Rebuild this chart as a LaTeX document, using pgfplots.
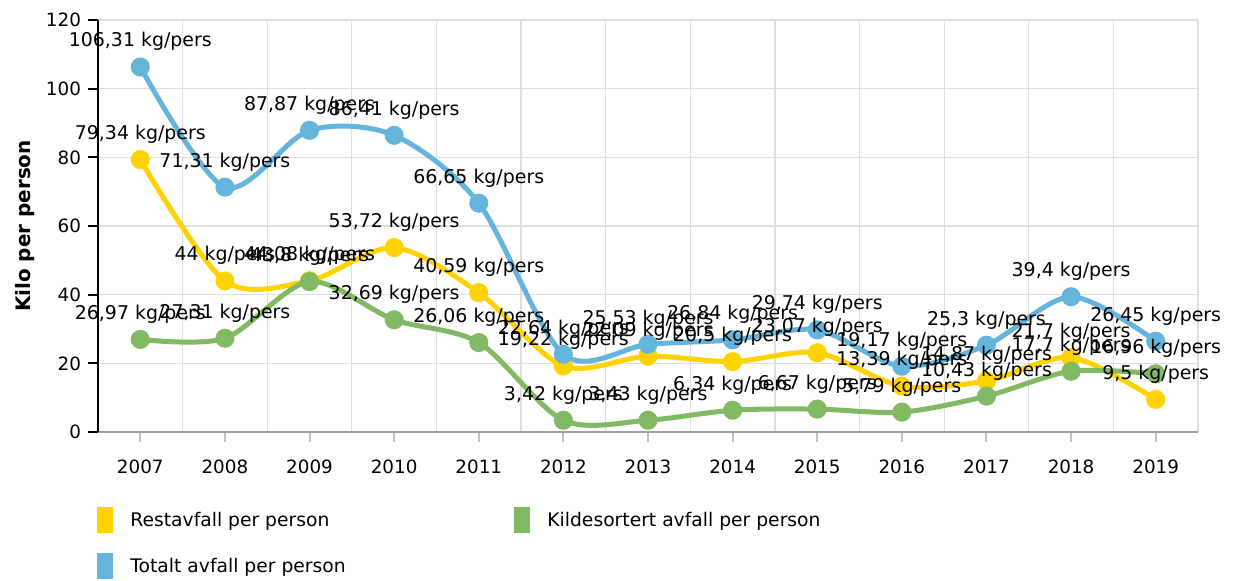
\documentclass[border=0pt]{standalone}
\usepackage{fontspec}
\setmainfont{DejaVu Sans}
\usepackage{pgfplots}
\pgfplotsset{compat=1.18}
\usepackage{pgfplotstable}
\definecolor{cy}{RGB}{255,210,0}
\definecolor{cg}{RGB}{130,185,100}
\definecolor{cb}{RGB}{100,180,220}
\definecolor{gridc}{RGB}{222,222,222}

\pgfplotstableread{
x y lab
2007 79.34 {79,34}
2008 44 {44}
2009 44.08 {44,08}
2010 53.72 {53,72}
2011 40.59 {40,59}
2012 19.22 {19,22}
2013 22.09 {22,09}
2014 20.5 {20,5}
2015 23.07 {23,07}
2016 13.39 {13,39}
2017 14.87 {14,87}
2018 21.7 {21,7}
2019 9.5 {9,5}
}\rest

\pgfplotstableread{
x y lab
2007 26.97 {26,97}
2008 27.31 {27,31}
2009 43.8 {43,8}
2010 32.69 {32,69}
2011 26.06 {26,06}
2012 3.42 {3,42}
2013 3.43 {3,43}
2014 6.34 {6,34}
2015 6.67 {6,67}
2016 5.79 {5,79}
2017 10.43 {10,43}
2018 17.7 {17,7}
2019 16.96 {16,96}
}\kilde

\pgfplotstableread{
x y lab
2007 106.31 {106,31}
2008 71.31 {71,31}
2009 87.87 {87,87}
2010 86.41 {86,41}
2011 66.65 {66,65}
2012 22.64 {22,64}
2013 25.53 {25,53}
2014 26.84 {26,84}
2015 29.74 {29,74}
2016 19.17 {19,17}
2017 25.3 {25,3}
2018 39.4 {39,4}
2019 26.45 {26,45}
}\total

\begin{document}
\begin{tikzpicture}[font=\fontsize{9}{11}\selectfont]
\useasboundingbox (-49bp,-74.5bp) rectangle (569bp,216bp);
\begin{axis}[
  at={(0,0)}, anchor=south west,
  scale only axis, width=550bp, height=206bp,
  xmin=2006.5, xmax=2019.5, ymin=0, ymax=120,
  xtick={2007,2008,...,2019},
  ytick={0,20,...,120},
  minor xtick={2007.5,2008.5,2009.5,2010.5,2011.5,2012.5,2013.5,2014.5,2015.5,2016.5,2017.5,2018.5,2019.5},
  xminorgrids=true, ymajorgrids=true, xmajorgrids=false,
  minor grid style={gridc, line width=0.6bp},
  major grid style={gridc, line width=0.6bp},
  minor tick length=0pt,
  major tick length=5bp,
  tick align=outside,
  xtick pos=bottom, ytick pos=left,
  axis x line*=bottom, axis y line*=left,
  x axis line style={-, draw=gray!75, line width=1bp},
  y axis line style={-, draw=black, line width=1bp},
  xtick style={draw=gray!50, line width=1bp},
  ytick style={draw=black, line width=1bp},
  /pgf/number format/assume math mode=true,
  xticklabel style={/pgf/number format/1000 sep={}, yshift=-5.5bp},
  ticklabel style={font=\fontsize{9.2}{11}\selectfont},
  ylabel={\textbf{Kilo per person}},
  ylabel style={font=\fontsize{10}{12}\selectfont\bfseries, yshift=-1bp},
  clip=false,
  legend columns=2,
  legend image code/.code={\fill[#1,draw=none] (0bp,-6.5bp) rectangle (8bp,6.5bp);},
  legend style={at={(axis description cs:0,0)}, anchor=north west, yshift=-37.5bp, xshift=-0.5bp,
    draw=none, fill=none, inner sep=0pt, row sep=10bp,
    nodes={inner sep=0pt, font=\fontsize{9.4}{11}\selectfont},
    /tikz/every odd column/.append style={column sep=8.5bp},
    /tikz/every even column/.append style={column sep=0bp}},
  every axis plot/.append style={line width=2.5bp, smooth, tension=0.5, mark=*, mark size=3.5bp, mark options={solid}},
]
\addplot[color=cy] table[x=x,y=y]{\rest};
\addlegendentry{\makebox[192bp][l]{Restavfall per person}}
\addplot[color=cg] table[x=x,y=y]{\kilde};
\addlegendentry{\makebox[192bp][l]{Kildesortert avfall per person}}
\addplot[color=cb] table[x=x,y=y]{\total};
\addlegendentry{\makebox[192bp][l]{Totalt avfall per person}}

\pgfplotsset{lbl/.style={draw=none, mark=none, forget plot, point meta=explicit symbolic,
  nodes near coords={\pgfplotspointmeta\ kg/pers},
  every node near coord/.append style={anchor=south, yshift=3.5bp, text=black, font=\fontsize{9.5}{11}\selectfont}}}
\addplot[lbl] table[x=x,y=y,meta=lab]{\rest};
\addplot[lbl] table[x=x,y=y,meta=lab]{\kilde};
\addplot[lbl] table[x=x,y=y,meta=lab]{\total};
\end{axis}
\end{tikzpicture}
\end{document}
